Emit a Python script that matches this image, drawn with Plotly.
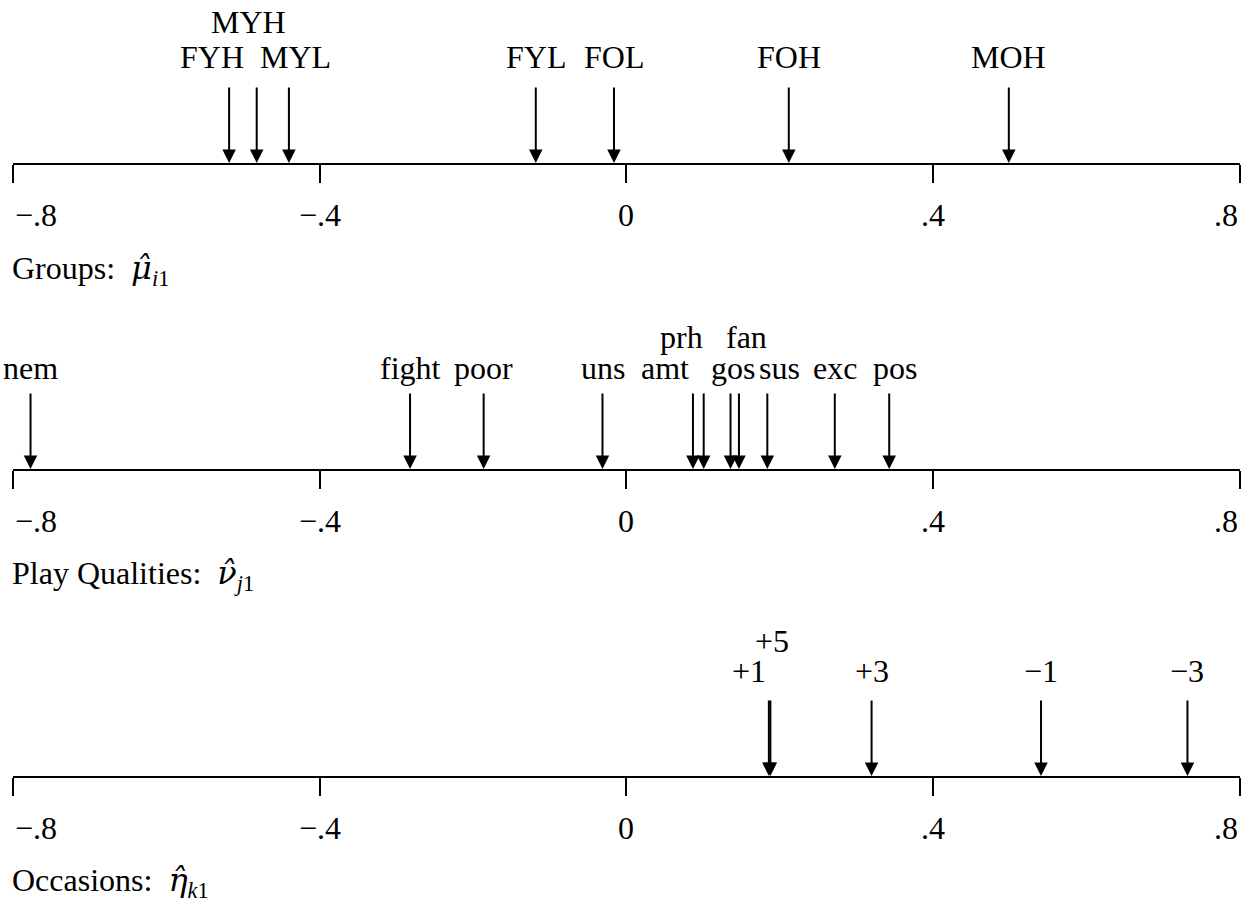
import plotly.graph_objects as go

# ---------------- data ----------------
tick_vals = [-0.8, -0.4, 0.0, 0.4, 0.8]
tick_text = ["\u2212.8", "\u2212.4", "0", ".4", ".8"]

group_labels = ["FYH", "MYH", "MYL", "FYL", "FOL", "FOH", "MOH"]
group_vals = [-0.518, -0.482, -0.440, -0.118, -0.016, 0.212, 0.499]

play_labels = ["nem", "fight", "poor", "uns", "amt", "prh", "gos", "fan", "sus", "exc", "pos"]
play_vals = [-0.777, -0.282, -0.186, -0.031, 0.087, 0.101, 0.136, 0.147, 0.184, 0.272, 0.343]

occ_labels = ["+1", "+5", "+3", "\u22121", "\u22123"]
occ_vals = [0.186, 0.188, 0.320, 0.541, 0.732]

HAT = '<span style="font-family:DejaVu Serif">{}</span>'
titles = [
    "Groups:\u00a0\u00a0<i>" + HAT.format("\u03bc\u0302") + "</i><sub><i>i</i>1</sub>",
    "Play Qualities:\u00a0\u00a0<i>" + HAT.format("\u03bd\u0302") + "</i><sub><i>j</i>1</sub>",
    "Occasions:\u00a0\u00a0<i>" + HAT.format("\u03b7\u0302") + "</i><sub><i>k</i>1</sub>",
]

# ---------------- layout / style ----------------
W, H = 1255, 913
FONT = "Liberation Serif"
FS = 32
X0, X1 = 12.9, 1239.6          # pixel positions of -0.8 and 0.8
AXIS_Y = [163, 469, 776]        # pixel y of the three number lines
ARROW_LEN = 77
ROW_LOW = [-29, -24, -28]       # label lower-row centre offset from arrow top (px)
ROW_GAP = [35, 31, 30]
TITLE_OFF = [107, 106, 106]

# label row (0 = lower, 1 = upper) and horizontal nudges (px)
group_row = [0, 1, 0, 0, 0, 0, 0]
group_dx = [-17, -8, 7, 0, 0, 0, 0]
play_row = [0, 0, 0, 0, 0, 1, 0, 1, 0, 0, 0]
play_dx = [0, 0, 0, 1, -28, -22, 2, 8, 12, 0, 6]
occ_row = [0, 1, 0, 0, 0]
occ_dx = [-20, 2, 0, 0, 0]


def py(p):
    return 1 - p / H


fig = go.Figure()
annotations = []
panels = [
    (group_labels, group_vals, group_row, group_dx),
    (play_labels, play_vals, play_row, play_dx),
    (occ_labels, occ_vals, occ_row, occ_dx),
]

for i, (labs, vals, rows, dxs) in enumerate(panels):
    n = "" if i == 0 else str(i + 1)
    xa, ya = "x" + n, "y" + n
    ay0 = AXIS_Y[i]
    fig.add_trace(go.Scatter(x=[tick_vals[0], tick_vals[-1]], y=[0, 0], mode="markers",
                             marker=dict(opacity=0), hoverinfo="skip", showlegend=False,
                             xaxis=xa, yaxis=ya))
    fig.update_layout(**{
        ("xaxis" + n): dict(domain=[X0 / W, X1 / W], range=[tick_vals[0], tick_vals[-1]],
                            anchor=ya, showline=True, linecolor="black", linewidth=2,
                            ticks="outside", ticklen=18, tickwidth=2, tickcolor="black",
                            tickvals=tick_vals, showticklabels=False, showgrid=False,
                            zeroline=False, fixedrange=True),
        ("yaxis" + n): dict(domain=[py(ay0), py(ay0) + 0.1], range=[0, 1], visible=False,
                            anchor=xa, fixedrange=True),
    })
    for lab, v, r, dx in zip(labs, vals, rows, dxs):
        annotations.append(dict(x=v, y=0, xref=xa, yref=ya, ax=0, ay=-ARROW_LEN,
                                axref="pixel", ayref="pixel", text="", showarrow=True,
                                arrowhead=2, arrowsize=1.35, arrowwidth=2, arrowcolor="black"))
        ly = ay0 - ARROW_LEN + ROW_LOW[i] - r * ROW_GAP[i]
        annotations.append(dict(x=v, y=py(ly), xref=xa, yref="paper", text=lab,
                                showarrow=False, xanchor="center", yanchor="middle",
                                xshift=dx, font=dict(family=FONT, size=FS, color="black")))
    for k, (tv, tt) in enumerate(zip(tick_vals, tick_text)):
        xanc = "left" if k == 0 else ("right" if k == len(tick_vals) - 1 else "center")
        annotations.append(dict(x=tv, y=py(ay0 + 52), xref=xa, yref="paper", text=tt,
                                showarrow=False, xanchor=xanc, yanchor="middle",
                                font=dict(family=FONT, size=FS, color="black")))
    annotations.append(dict(x=10 / W, y=py(ay0 + TITLE_OFF[i]), xref="paper", yref="paper",
                            text=titles[i], showarrow=False, xanchor="left", yanchor="middle",
                            font=dict(family=FONT, size=FS, color="black")))

fig.update_layout(width=W, height=H, margin=dict(l=0, r=0, t=0, b=0),
                  paper_bgcolor="white", plot_bgcolor="white",
                  annotations=annotations, showlegend=False)

fig.write_html("out.html")
